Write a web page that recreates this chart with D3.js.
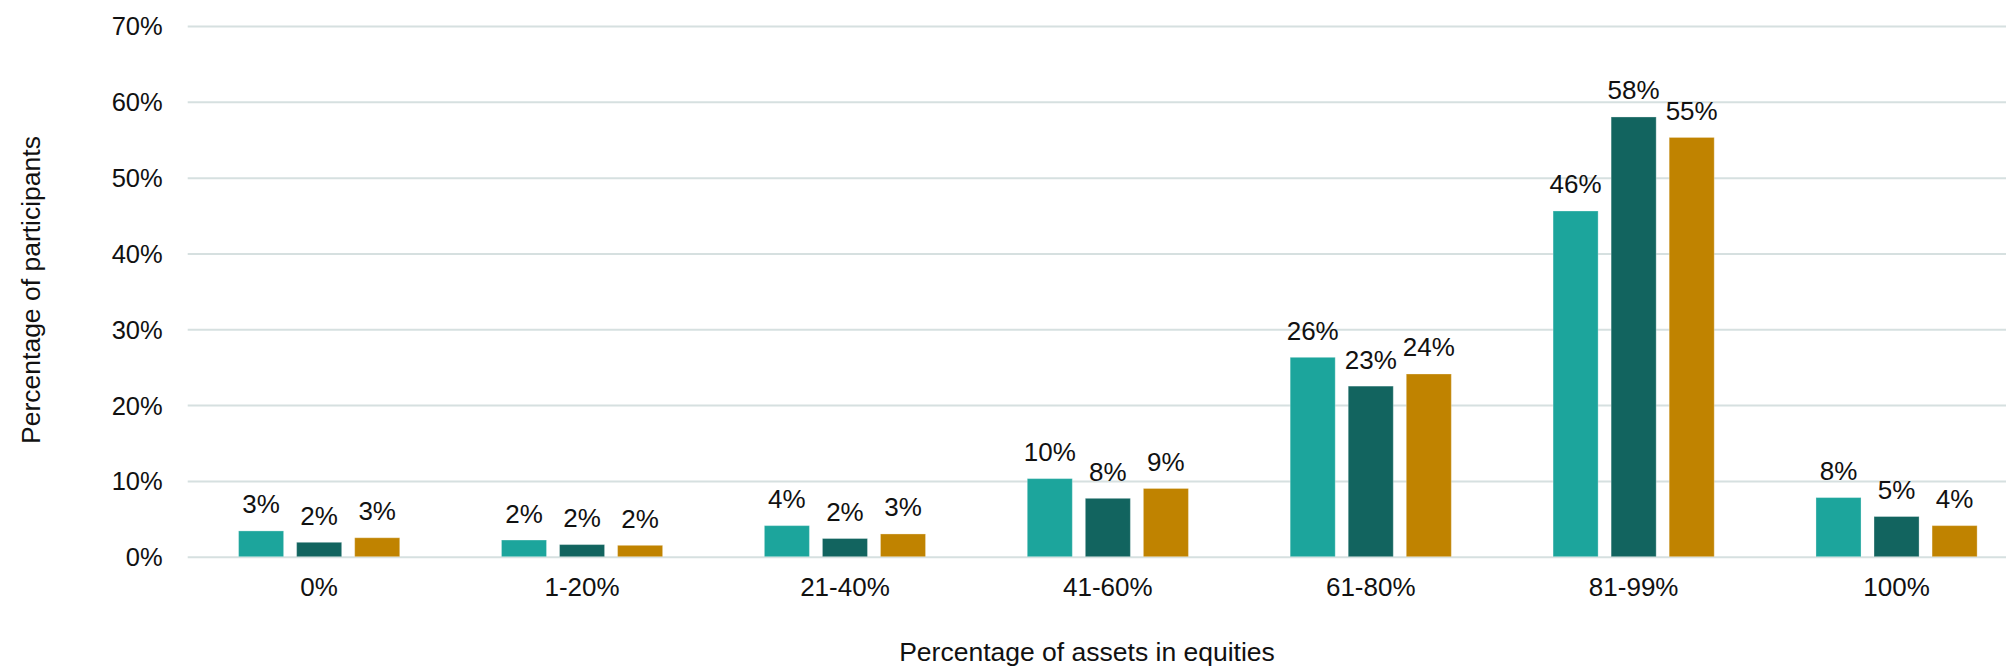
<!DOCTYPE html>
<html>
<head>
<meta charset="utf-8">
<script src="https://cdn.jsdelivr.net/npm/d3@7"></script>
<style>
  html, body { margin: 0; padding: 0; background: #fff; }
  svg { display: block; }
  text { font-family: "Liberation Sans", Arial, Helvetica, sans-serif; fill: #111; }
</style>
</head>
<body>
<svg id="chart" width="2006" height="669"></svg>
<script>
// ---- data ----
const categories = ["0%", "1-20%", "21-40%", "41-60%", "61-80%", "81-99%", "100%"];
const seriesNames = ["Series 1", "Series 2", "Series 3"];
const series1Values = [3.4, 2.2, 4.1, 10.3, 26.3, 45.6, 7.8];
const series2Values = [1.9, 1.6, 2.4, 7.7, 22.5, 58.0, 5.3];
const series3Values = [2.5, 1.5, 3.0, 9.0, 24.1, 55.3, 4.1];
const seriesColors = ["#1ca59c", "#12645f", "#c08300"];
const yTickValues = [0, 10, 20, 30, 40, 50, 60, 70];
const yAxisTitle = "Percentage of participants";
const xAxisTitle = "Percentage of assets in equities";

const allSeries = [series1Values, series2Values, series3Values];

// ---- layout ----
const svg = d3.select("#chart");
const plotLeft = 187.7, plotRight = 2028, plotTop = 26, plotBottom = 556.7;

const x = d3.scaleBand()
  .domain(categories)
  .range([plotLeft, plotRight])
  .paddingInner(0.387)
  .paddingOuter(0.1935);

const xInner = d3.scaleBand()
  .domain(d3.range(seriesNames.length))
  .range([0, x.bandwidth()])
  .paddingInner(0.224)
  .paddingOuter(0);

const y = d3.scaleLinear().domain([0, 70]).range([plotBottom, plotTop]);

// gridlines
const yAxis = d3.axisLeft(y)
  .tickValues(yTickValues)
  .tickSize(-(2006 - plotLeft + 10))
  .tickPadding(25)
  .tickFormat(d => d + "%");

const gy = svg.append("g")
  .attr("transform", `translate(${plotLeft},0)`)
  .call(yAxis);
gy.select(".domain").remove();
gy.selectAll(".tick line")
  .attr("stroke", "#d6e0e0")
  .attr("stroke-width", 2);
gy.selectAll(".tick text")
  .attr("font-size", 25.5)
  .attr("fill", "#111")
  .attr("dy", "0.35em")
  .style("font-family", '"Liberation Sans", Arial, sans-serif');

// bars
const groups = svg.append("g").selectAll("g")
  .data(categories)
  .join("g")
  .attr("transform", d => `translate(${x(d)},0)`);

groups.each(function(cat, ci) {
  const g = d3.select(this);
  allSeries.forEach((vals, si) => {
    const v = vals[ci];
    g.append("rect")
      .attr("x", xInner(si))
      .attr("width", xInner.bandwidth())
      .attr("y", y(v))
      .attr("height", y(0) - y(v))
      .attr("fill", seriesColors[si])
      .attr("stroke", "rgba(255,255,255,0.3)")
      .attr("stroke-width", 1);
    g.append("text")
      .attr("x", xInner(si) + xInner.bandwidth() / 2)
      .attr("y", y(v) - 17.5)
      .attr("text-anchor", "middle")
      .attr("font-size", 26)
      .text(Math.round(v) + "%");
  });
});

// x axis category labels
const xAxis = d3.axisBottom(x).tickSize(0).tickPadding(0);
const gx = svg.append("g")
  .attr("transform", `translate(0,${plotBottom})`)
  .call(xAxis);
gx.select(".domain").remove();
gx.selectAll(".tick text")
  .attr("font-size", 26)
  .attr("fill", "#111")
  .attr("dy", null)
  .attr("y", 39.5)
  .style("font-family", '"Liberation Sans", Arial, sans-serif');

// axis titles
svg.append("text")
  .attr("transform", "translate(39.5,290) rotate(-90)")
  .attr("text-anchor", "middle")
  .attr("font-size", 26.5)
  .text(yAxisTitle);

svg.append("text")
  .attr("x", 1087)
  .attr("y", 661)
  .attr("text-anchor", "middle")
  .attr("font-size", 26.5)
  .text(xAxisTitle);
</script>
</body>
</html>
